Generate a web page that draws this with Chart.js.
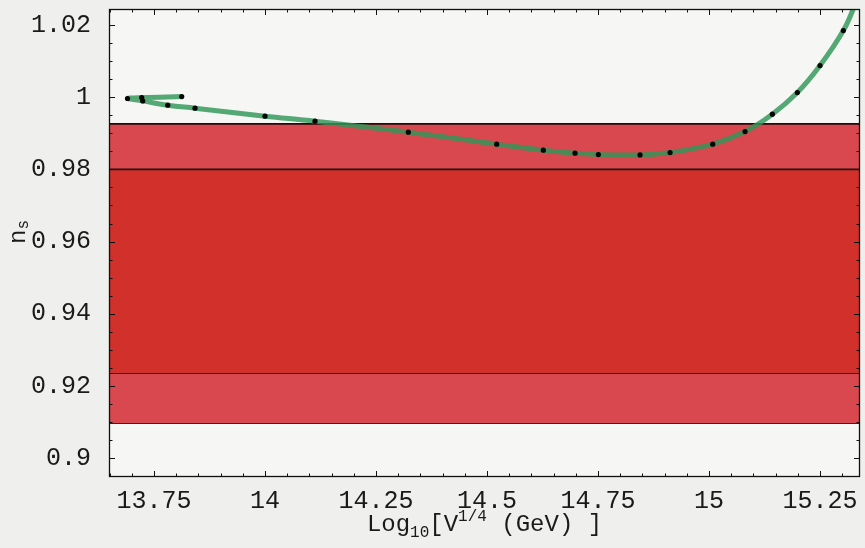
<!DOCTYPE html>
<html>
<head>
<meta charset="utf-8">
<script src="https://cdn.jsdelivr.net/npm/chart.js@4/dist/chart.umd.min.js"></script>
<style>
  html, body { margin: 0; padding: 0; background: #efefed; }
  #wrap { width: 865px; height: 548px; position: relative; }
</style>
</head>
<body>
<div id="wrap"><canvas id="c" width="865" height="548"></canvas></div>
<script>
// Axis ticks (labelled values) and visible ranges
const xTicks = [13.75, 14, 14.25, 14.5, 14.75, 15, 15.25];
const yTicks = [0.9, 0.92, 0.94, 0.96, 0.98, 1, 1.02];
const xRange = [13.6486, 15.34];
const yRange = [0.8948, 1.0244];

// Allowed n_s bands: wide (lighter) and narrow (darker)
const outerBand = [0.9097, 0.9926];
const innerBand = [0.9236, 0.9800];

// Model points: log10 of V^(1/4) in GeV against n_s
const curveX = [13.8124, 13.7223, 13.6903, 13.7245, 13.7809, 13.8423, 14.0000, 14.1126,
                14.3227, 14.5218, 14.6268, 14.6982, 14.7507, 14.8446, 14.9122, 15.0083,
                15.0811, 15.1426, 15.1989, 15.2500, 15.3025];
const curveY = [1.00014, 0.99987, 0.99962, 0.99895, 0.99776, 0.99693, 0.99472, 0.99333,
                0.99029, 0.98696, 0.98530, 0.98447, 0.98408, 0.98400, 0.98464, 0.98696,
                0.99045, 0.99527, 1.00125, 1.00873, 1.01842];
// the curve runs on past the last marked point and leaves through the top
const curveTail = [15.331, 1.0262];

const pts = curveX.map((x, i) => ({ x, y: curveY[i] }));
const linePts = pts.concat([{ x: curveTail[0], y: curveTail[1] }]);
const hLine = v => [{ x: xRange[0], y: v }, { x: xRange[1], y: v }];

const fmt = v => String(Number(Number(v).toFixed(3)));
const FONT = "'Liberation Mono', 'DejaVu Sans Mono', monospace";

const bandEdge = '#240a0a';

const plotBg = {
  id: 'plotBg',
  beforeDraw(chart) {
    const { ctx, chartArea: a } = chart;
    ctx.save();
    ctx.fillStyle = '#f6f6f4';
    ctx.fillRect(a.left, a.top, a.right - a.left, a.bottom - a.top);
    ctx.restore();
  }
};

// Frame with inward ticks on all four sides
const frame = {
  id: 'frame',
  afterDatasetsDraw(chart) {
    const { ctx, chartArea: a, scales: { x, y } } = chart;
    ctx.save();
    ctx.strokeStyle = '#111';
    ctx.lineWidth = 1.3;
    ctx.strokeRect(a.left + 0.5, a.top + 0.5, a.right - a.left - 1, a.bottom - a.top - 1);
    ctx.lineWidth = 1;
    ctx.beginPath();
    const kx0 = Math.ceil(xRange[0] / 0.05 - 1e-6), kx1 = Math.floor(xRange[1] / 0.05 + 1e-6);
    for (let k = kx0; k <= kx1; k++) {
      const px = Math.round(x.getPixelForValue(k * 0.05)) + 0.5;
      const len = (k % 5 === 0) ? 6 : 3.5;
      ctx.moveTo(px, a.bottom); ctx.lineTo(px, a.bottom - len);
      ctx.moveTo(px, a.top); ctx.lineTo(px, a.top + len);
    }
    const ky0 = Math.ceil(yRange[0] / 0.005 - 1e-6), ky1 = Math.floor(yRange[1] / 0.005 + 1e-6);
    for (let k = ky0; k <= ky1; k++) {
      const py = Math.round(y.getPixelForValue(k * 0.005)) + 0.5;
      const len = (k % 4 === 0) ? 6 : 3.5;
      ctx.moveTo(a.left, py); ctx.lineTo(a.left + len, py);
      ctx.moveTo(a.right, py); ctx.lineTo(a.right - len, py);
    }
    ctx.stroke();
    ctx.restore();
  }
};

// Axis titles with sub/superscripts
function drawRuns(ctx, runs, x0, baseline) {
  let x = x0;
  for (const r of runs) {
    ctx.font = r.size + 'px ' + FONT;
    ctx.fillText(r.t, x, baseline + (r.dy || 0));
    x += ctx.measureText(r.t).width;
  }
}
function runsWidth(ctx, runs) {
  let w = 0;
  for (const r of runs) { ctx.font = r.size + 'px ' + FONT; w += ctx.measureText(r.t).width; }
  return w;
}
const titles = {
  id: 'titles',
  afterDraw(chart) {
    const { ctx, chartArea: a } = chart;
    ctx.save();
    ctx.fillStyle = '#1a1a1a';
    ctx.textBaseline = 'alphabetic';
    ctx.textAlign = 'left';
    const xr = [
      { t: 'Log', size: 24 },
      { t: '10', size: 16, dy: 6 },
      { t: '[V', size: 24 },
      { t: '1/4', size: 16, dy: -10 },
      { t: ' (GeV) ]', size: 24 }
    ];
    const w = runsWidth(ctx, xr);
    drawRuns(ctx, xr, (a.left + a.right) / 2 - w / 2, 531);

    const yr = [
      { t: 'n', size: 24 },
      { t: 's', size: 16, dy: 3 }
    ];
    const wy = runsWidth(ctx, yr);
    ctx.translate(25, 232);
    ctx.rotate(-Math.PI / 2);
    drawRuns(ctx, yr, -wy / 2, 0);
    ctx.restore();
  }
};

new Chart(document.getElementById('c'), {
  type: 'scatter',
  data: {
    datasets: [
      { // marked points
        data: pts, showLine: false, pointRadius: 2.6, pointHoverRadius: 2.6,
        pointBackgroundColor: '#050505', pointBorderWidth: 0
      },
      { // model curve
        data: linePts, showLine: true, tension: 0.4, pointRadius: 0,
        borderColor: 'rgba(48,150,88,0.82)', borderWidth: 5
      },
      { data: hLine(innerBand[1]), showLine: true, pointRadius: 0, borderColor: bandEdge, borderWidth: 1.8,
        fill: { value: innerBand[0] }, backgroundColor: '#d2302a' },
      { data: hLine(innerBand[0]), showLine: true, pointRadius: 0, borderColor: bandEdge, borderWidth: 1.8 },
      { data: hLine(outerBand[1]), showLine: true, pointRadius: 0, borderColor: bandEdge, borderWidth: 1.8,
        fill: { value: outerBand[0] }, backgroundColor: '#d9484f' },
      { data: hLine(outerBand[0]), showLine: true, pointRadius: 0, borderColor: bandEdge, borderWidth: 1.8 }
    ]
  },
  options: {
    responsive: false,
    animation: false,
    devicePixelRatio: 1,
    layout: { padding: { top: 9, right: 5, left: 0, bottom: 0 } },
    plugins: { legend: { display: false }, tooltip: { enabled: false } },
    scales: {
      x: {
        type: 'linear', min: xRange[0], max: xRange[1],
        grid: { display: false }, border: { display: false },
        afterBuildTicks: s => { s.ticks = xTicks.map(v => ({ value: v })); },
        afterFit: s => { s.height = 71; s.paddingLeft = 0; s.paddingRight = 0; },
        ticks: { font: { family: FONT, size: 25 }, color: '#1a1a1a', padding: 1,
                 maxRotation: 0, autoSkip: false, callback: v => fmt(v) }
      },
      y: {
        type: 'linear', min: yRange[0], max: yRange[1],
        grid: { display: false }, border: { display: false },
        afterBuildTicks: s => { s.ticks = yTicks.map(v => ({ value: v })); },
        afterFit: s => { s.width = 109; s.paddingTop = 0; s.paddingBottom = 0; },
        ticks: { font: { family: FONT, size: 25 }, color: '#1a1a1a', padding: 10,
                 autoSkip: false, callback: v => fmt(v) }
      }
    }
  },
  plugins: [plotBg, frame, titles]
});
</script>
</body>
</html>
